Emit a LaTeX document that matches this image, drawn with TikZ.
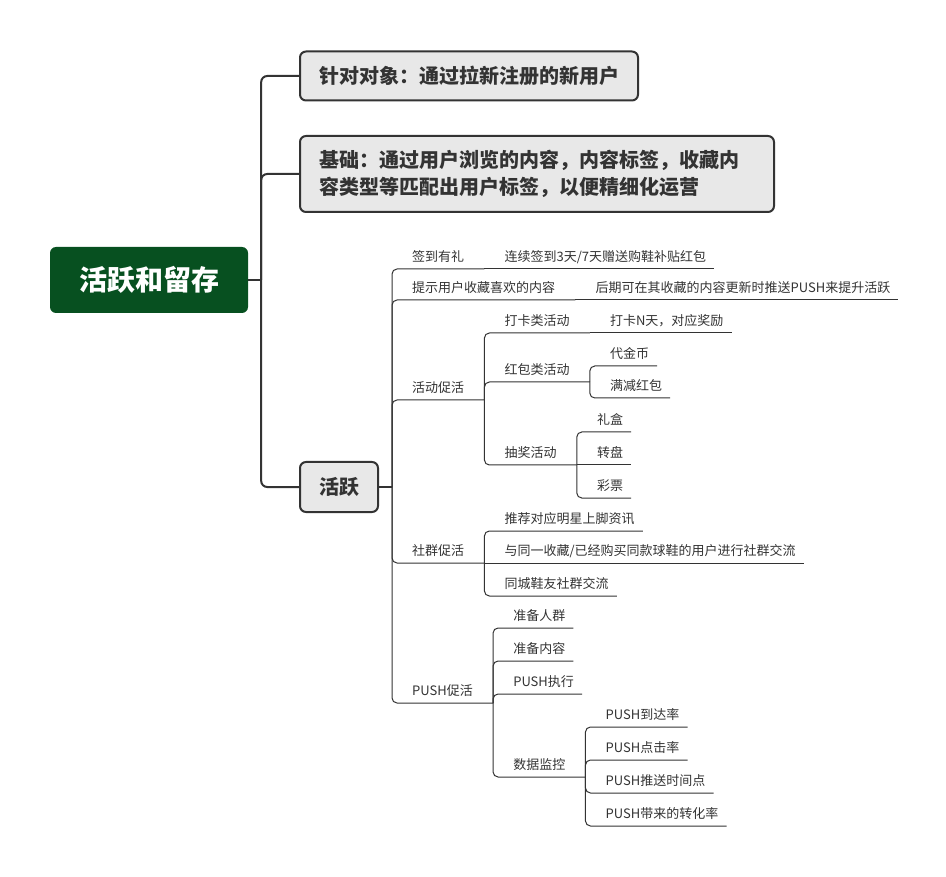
\documentclass[tikz,border=0pt]{standalone}
\usepackage{fontspec}
\setmainfont{Noto Sans CJK SC}
\usetikzlibrary{positioning}
\definecolor{rootgreen}{RGB}{7,80,32}
\definecolor{boxgray}{RGB}{232,232,232}
\definecolor{linegray}{RGB}{51,51,51}
\definecolor{txtgray}{RGB}{51,51,51}

\begin{document}
\begin{tikzpicture}[x=1pt,y=-1pt,
  rootbox/.style={fill=rootgreen, rounded corners=6pt, minimum width=198pt,
    minimum height=66pt, text=white, font=\bfseries\fontsize{28}{28}\selectfont},
  mainbox/.style={draw=linegray, line width=2pt, fill=boxgray, rounded corners=6pt,
    inner xsep=19pt, inner ysep=2pt, anchor=west, text=txtgray,
    font=\bfseries\fontsize{20}{27}\selectfont},
  topic/.style={anchor=south west, inner xsep=0pt, inner ysep=4pt, text height=10pt,
    text depth=3pt, text=txtgray, font=\fontsize{13}{13}\selectfont},
  trunk/.style={draw=linegray, line width=2pt, rounded corners=6pt},
  branch/.style={draw=linegray, line width=1pt, rounded corners=5pt}]
  \useasboundingbox (0,0) rectangle (946,877);

  % Root and first level
  \node[rootbox] (root) at (149,280) {活跃和留存};
  \coordinate (rootJ) at ([xshift=13pt]root.east);
  \node[mainbox, minimum height=49pt] (target) at (299,76) {针对对象：通过拉新注册的新用户};
  \node[mainbox, minimum height=76pt, text width=436pt, align=left] (basis) at (299,174)
    {基础：通过用户浏览的内容，内容标签，收藏内\\容类型等匹配出用户标签，以便精细化运营};
  \node[mainbox, minimum height=50pt] (active) at (299,487) {活跃};
  \draw[trunk] (root.east) -- (rootJ);
  \draw[trunk] (rootJ) |- (target.west);
  \draw[trunk] (rootJ) |- (basis.west);
  \draw[trunk] (rootJ) |- (active.west);

  % Active
  \coordinate (activeJ) at ([xshift=13pt]active.east);
  \draw[linegray, line width=1.5pt] (active.east) -- (activeJ);
  \node[topic] (signin) at ([xshift=20pt]activeJ |- 0,269) {签到有礼};
  \node[topic] (remind) at ([xshift=20pt]activeJ |- 0,300) {提示用户收藏喜欢的内容};
  \node[topic] (event) at ([xshift=20pt]activeJ |- 0,400) {活动促活};
  \node[topic] (social) at ([xshift=20pt]activeJ |- 0,563) {社群促活};
  \node[topic] (push) at ([xshift=20pt]activeJ |- 0,703) {PUSH促活};
  \coordinate (signinJ) at ([xshift=20pt]signin.south east);
  \coordinate (remindJ) at ([xshift=20pt]remind.south east);
  \coordinate (eventJ) at ([xshift=20pt]event.south east);
  \coordinate (socialJ) at ([xshift=20pt]social.south east);
  \coordinate (pushJ) at ([xshift=20pt]push.south east);
  \draw[branch] (activeJ) |- (signin.south west) -- (signinJ);
  \draw[branch] (activeJ) |- (remind.south west) -- (remindJ);
  \draw[branch] (activeJ) |- (event.south west) -- (eventJ);
  \draw[branch] (activeJ) |- (social.south west) -- (socialJ);
  \draw[branch] (activeJ) |- (push.south west) -- (pushJ);

  % Sign-in, remind
  \node[topic] (signinR) at ([xshift=20pt]signinJ) {连续签到3天/7天赠送购鞋补贴红包};
  \node[topic] (remindR) at ([xshift=20pt]remindJ) {后期可在其收藏的内容更新时推送PUSH来提升活跃};
  \draw[branch] (signinJ) -- ([xshift=8pt]signinR.south east);
  \draw[branch] (remindJ) -- ([xshift=8pt]remindR.south east);

  % Events
  \node[topic] (checkin) at ([xshift=20pt]eventJ |- 0,333) {打卡类活动};
  \node[topic] (redpack) at ([xshift=20pt]eventJ |- 0,382) {红包类活动};
  \node[topic] (lottery) at ([xshift=20pt]eventJ |- 0,465) {抽奖活动};
  \coordinate (checkinJ) at ([xshift=20pt]checkin.south east);
  \coordinate (redpackJ) at ([xshift=20pt]redpack.south east);
  \coordinate (lotteryJ) at ([xshift=20pt]lottery.south east);
  \draw[branch] (eventJ) |- (checkin.south west) -- (checkinJ);
  \draw[branch] (eventJ) |- (redpack.south west) -- (redpackJ);
  \draw[branch] (eventJ) |- (lottery.south west) -- (lotteryJ);
  \node[topic] (checkinR) at ([xshift=20pt]checkinJ) {打卡N天，对应奖励};
  \draw[branch] (checkinJ) -- ([xshift=8pt]checkinR.south east);
  \node[topic] (coupon) at ([xshift=20pt]redpackJ |- 0,366) {代金币};
  \node[topic] (discount) at ([xshift=20pt]redpackJ |- 0,398) {满减红包};
  \draw[branch] (redpackJ) |- (coupon.south west) -- ([xshift=8pt]coupon.south east);
  \draw[branch] (redpackJ) |- (discount.south west) -- ([xshift=8pt]discount.south east);
  \node[topic] (giftbox) at ([xshift=20pt]lotteryJ |- 0,432) {礼盒};
  \node[topic] (wheel) at ([xshift=20pt]lotteryJ) {转盘};
  \node[topic] (ticket) at ([xshift=20pt]lotteryJ |- 0,498) {彩票};
  \draw[branch] (lotteryJ) |- (giftbox.south west) -- ([xshift=8pt]giftbox.south east);
  \draw[branch] (lotteryJ) -- ([xshift=8pt]wheel.south east);
  \draw[branch] (lotteryJ) |- (ticket.south west) -- ([xshift=8pt]ticket.south east);

  % Social
  \node[topic] (star) at ([xshift=20pt]socialJ |- 0,531) {推荐对应明星上脚资讯};
  \node[topic] (sameshoe) at ([xshift=20pt]socialJ) {与同一收藏/已经购买同款球鞋的用户进行社群交流};
  \node[topic] (city) at ([xshift=20pt]socialJ |- 0,596) {同城鞋友社群交流};
  \draw[branch] (socialJ) |- (star.south west) -- ([xshift=8pt]star.south east);
  \draw[branch] (socialJ) -- ([xshift=8pt]sameshoe.south east);
  \draw[branch] (socialJ) |- (city.south west) -- ([xshift=8pt]city.south east);

  % PUSH
  \node[topic] (crowd) at ([xshift=20pt]pushJ |- 0,628) {准备人群};
  \node[topic] (content) at ([xshift=20pt]pushJ |- 0,661) {准备内容};
  \node[topic] (exec) at ([xshift=20pt]pushJ |- 0,694) {PUSH执行};
  \node[topic] (monitor) at ([xshift=20pt]pushJ |- 0,777) {数据监控};
  \coordinate (monitorJ) at ([xshift=20pt]monitor.south east);
  \draw[branch] (pushJ) |- (crowd.south west) -- ([xshift=8pt]crowd.south east);
  \draw[branch] (pushJ) |- (content.south west) -- ([xshift=8pt]content.south east);
  \draw[branch] (pushJ) |- (exec.south west) -- ([xshift=8pt]exec.south east);
  \draw[branch] (pushJ) |- (monitor.south west) -- (monitorJ);
  \node[topic] (arrive) at ([xshift=20pt]monitorJ |- 0,727) {PUSH到达率};
  \node[topic] (click) at ([xshift=20pt]monitorJ |- 0,760) {PUSH点击率};
  \node[topic] (sendtime) at ([xshift=20pt]monitorJ |- 0,793) {PUSH推送时间点};
  \node[topic] (convert) at ([xshift=20pt]monitorJ |- 0,826) {PUSH带来的转化率};
  \draw[branch] (monitorJ) |- (arrive.south west) -- ([xshift=8pt]arrive.south east);
  \draw[branch] (monitorJ) |- (click.south west) -- ([xshift=8pt]click.south east);
  \draw[branch] (monitorJ) |- (sendtime.south west) -- ([xshift=8pt]sendtime.south east);
  \draw[branch] (monitorJ) |- (convert.south west) -- ([xshift=8pt]convert.south east);
\end{tikzpicture}
\end{document}
